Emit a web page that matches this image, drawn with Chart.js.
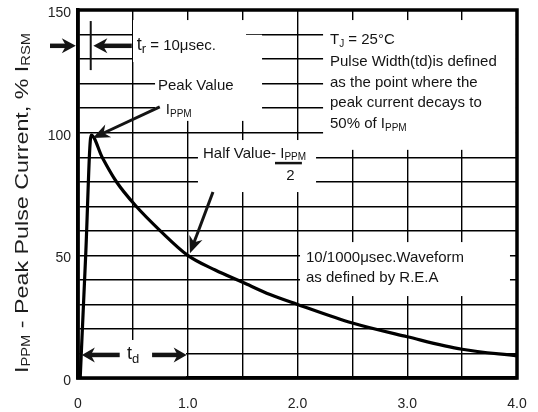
<!DOCTYPE html>
<html>
<head>
<meta charset="utf-8">
<script src="https://cdn.jsdelivr.net/npm/chart.js@4.4.1/dist/chart.umd.min.js"></script>
<style>
  html, body { margin: 0; padding: 0; background: #fff; }
  #wrap { width: 538px; height: 412px; }
</style>
</head>
<body>
<div id="wrap"><canvas id="pulseChart"></canvas></div>
<script>
// 10/1000 usec pulse waveform
const timeMs = [0.02, 0.07, 0.12, 0.22, 0.35, 0.53, 0.75, 1.0, 1.25, 1.5, 1.75, 2.0, 2.5, 3.0, 3.5, 4.0];
const currentPct = [0, 50, 99, 90, 80, 70, 60, 50, 44, 39, 34, 30, 22.4, 16.8, 11.7, 9];
const xTickLabels = ['0', '1.0', '2.0', '3.0', '4.0'];
const yTickLabels = ['0', '50', '100', '150'];

const FONT = '"Liberation Sans", Arial, sans-serif';
const INK = '#141414';

// white patches behind the notes (data units: x1, x2, y1, y2)
const clearBoxes = [
    [0.501, 1.531, 145.9, 128.8],
    [0.702, 1.677, 139.9, 104.8],
    [1.093, 2.169, 97.0, 75.8],
    [2.233, 3.99, 145.9, 93.0],
    [2.023, 3.936, 55.4, 33.4],
    [0.036, 0.984, 15.5, 0.4]
];

function arrow(ctx, x1, y1, x2, y2, len, half, width) {
    const a = Math.atan2(y2 - y1, x2 - x1);
    const c = Math.cos(a), s = Math.sin(a);
    const bx = x2 - len * c, by = y2 - len * s;
    const nx = -s, ny = c;
    ctx.lineWidth = width;
    ctx.beginPath();
    ctx.moveTo(x1, y1);
    ctx.lineTo(x2 - (len * 0.6) * c, y2 - (len * 0.6) * s);
    ctx.stroke();
    ctx.beginPath();
    ctx.moveTo(x2, y2);
    ctx.lineTo(bx + nx * half, by + ny * half);
    ctx.lineTo(x2 - len * 0.7 * c, y2 - len * 0.7 * s);
    ctx.lineTo(bx - nx * half, by - ny * half);
    ctx.closePath();
    ctx.fill();
}

// runs: [text, size, dy]
function rich(ctx, x, y, runs, measureOnly) {
    let cx = x;
    for (const [t, size, dy] of runs) {
        ctx.font = size + 'px ' + FONT;
        if (!measureOnly) ctx.fillText(t, cx, y + (dy || 0));
        cx += ctx.measureText(t).width;
    }
    return cx - x;
}

const notes = {
    id: 'notes',
    beforeDatasetsDraw(chart) {
        const { ctx, scales: { x, y } } = chart;
        ctx.save();
        ctx.fillStyle = '#fff';
        for (const b of clearBoxes) {
            const x1 = x.getPixelForValue(b[0]), x2 = x.getPixelForValue(b[1]);
            const y1 = y.getPixelForValue(b[2]), y2 = y.getPixelForValue(b[3]);
            ctx.fillRect(x1, y1, x2 - x1, y2 - y1);
        }
        ctx.restore();
    },
    afterDatasetsDraw(chart) {
        const { ctx, scales: { x, y } } = chart;
        const X = v => x.getPixelForValue(v);
        const Y = v => y.getPixelForValue(v);
        ctx.save();
        ctx.strokeStyle = INK;
        ctx.fillStyle = INK;
        ctx.lineCap = 'butt';

        // rise time marker
        ctx.lineWidth = 2;
        ctx.beginPath();
        ctx.moveTo(X(0.116), Y(145.5));
        ctx.lineTo(X(0.116), Y(125.5));
        ctx.stroke();
        arrow(ctx, X(-0.255), Y(135.4), X(-0.02), Y(135.4), 14, 7.5, 4.5);
        arrow(ctx, X(0.49), Y(135.4), X(0.14), Y(135.4), 14, 7.5, 4.5);

        // peak and half value pointers
        arrow(ctx, X(0.745), Y(110.5), X(0.135), Y(97.8), 17, 7, 3);
        arrow(ctx, X(1.23), Y(75.8), X(1.02), Y(50.8), 17, 7, 3);

        // pulse width arrows
        arrow(ctx, X(0.38), Y(9.4), X(0.035), Y(9.4), 13, 7.5, 4.5);
        arrow(ctx, X(0.675), Y(9.4), X(0.99), Y(9.4), 13, 7.5, 4.5);

        // fraction bar of Ippm/2
        ctx.lineWidth = 2.5;
        ctx.beginPath();
        ctx.moveTo(X(1.795), Y(87.6));
        ctx.lineTo(X(2.04), Y(87.6));
        ctx.stroke();

        ctx.textBaseline = 'middle';
        ctx.textAlign = 'left';
        rich(ctx, X(0.535), Y(135.4), [['t', 18, -1], ['r', 13, 4], [' = 10\u03bcsec.', 15, 0]]);
        rich(ctx, X(0.729), Y(119.1), [['Peak Value', 15, 0]]);
        rich(ctx, X(0.8), Y(109.2), [['I', 15, 0], ['PPM', 10, 4]]);
        rich(ctx, X(1.139), Y(91.4), [['Half Value- ', 15, 0], ['I', 15, 0], ['PPM', 10, 3]]);
        ctx.textAlign = 'center';
        rich(ctx, X(1.935), Y(82.3), [['2', 15, 0]]);
        ctx.textAlign = 'left';

        const bx = X(2.296);
        rich(ctx, bx, Y(137.8), [['T', 15, 0], ['J', 10, 4], [' = 25\u00b0C', 15, 0]]);
        rich(ctx, bx, Y(128.8), [['Pulse Width(td)is defined', 15, 0]]);
        rich(ctx, bx, Y(120.2), [['as the point where the', 15, 0]]);
        rich(ctx, bx, Y(112.1), [['peak current decays to', 15, 0]]);
        rich(ctx, bx, Y(103.5), [['50% of I', 15, 0], ['PPM', 10, 4]]);

        rich(ctx, X(2.077), Y(48.9), [['10/1000\u03bcsec.Waveform', 15, 0]]);
        rich(ctx, X(2.077), Y(40.8), [['as defined by R.E.A', 15, 0]]);

        rich(ctx, X(0.446), Y(9.4), [['t', 18, -1], ['d', 13, 4]]);
        ctx.restore();
    },
    afterDraw(chart) {
        const { ctx, chartArea: a } = chart;
        ctx.save();
        ctx.strokeStyle = '#000';
        ctx.lineWidth = 3.5;
        ctx.strokeRect(a.left, a.top, a.right - a.left, a.bottom - a.top);

        // y axis title with subscripts
        const runs = [['I', 19, 0], ['PPM', 12, 4], [' - Peak Pulse Current, % I', 19, 0], ['RSM', 12, 4]];
        ctx.textBaseline = 'middle';
        ctx.fillStyle = '#1e1e1e';
        const w = rich(ctx, 0, 0, runs, true);
        const k = 340 / w;
        ctx.translate(23, 203);
        ctx.rotate(-Math.PI / 2);
        ctx.scale(k, 1);
        rich(ctx, -w / 2, 0, runs);
        ctx.restore();
    }
};

const ctx = document.getElementById('pulseChart').getContext('2d');
const chart = new Chart(ctx, {
    type: 'line',
    data: {
        datasets: [{
            data: timeMs.map((t, i) => ({ x: t, y: currentPct[i] })),
            borderColor: '#000',
            borderWidth: 3.2,
            pointRadius: 0,
            fill: false,
            cubicInterpolationMode: 'monotone'
        }]
    },
    options: {
        responsive: true,
        maintainAspectRatio: false,
        animation: false,
        layout: { padding: { top: 10, right: 21, left: 0, bottom: 0 } },
        plugins: { legend: { display: false }, tooltip: { enabled: false } },
        scales: {
            x: {
                type: 'linear',
                min: 0,
                max: 4,
                afterFit: s => {
                    s.height = 34;
                    s.paddingLeft = 0;
                    s.paddingRight = 0;
                },
                ticks: {
                    stepSize: 0.5,
                    maxRotation: 0,
                    autoSkip: false,
                    padding: 18,
                    color: '#222',
                    font: { family: FONT, size: 14 },
                    callback: v => Number.isInteger(v) ? xTickLabels[v] : ''
                },
                grid: { color: '#000', lineWidth: 1.4, drawTicks: false },
                border: { display: true, color: '#000', width: 3.5 }
            },
            y: {
                min: 0,
                max: 150,
                afterFit: s => {
                    s.width = 78;
                    s.paddingTop = 0;
                    s.paddingBottom = 0;
                },
                ticks: {
                    stepSize: 10,
                    autoSkip: false,
                    padding: 7,
                    labelOffset: 3,
                    color: '#222',
                    font: { family: FONT, size: 14 },
                    callback: v => v % 50 === 0 ? yTickLabels[v / 50] : ''
                },
                grid: { color: '#000', lineWidth: 1.4, drawTicks: false },
                border: { display: true, color: '#000', width: 3.5 }
            }
        }
    },
    plugins: [notes]
});
</script>
</body>
</html>
